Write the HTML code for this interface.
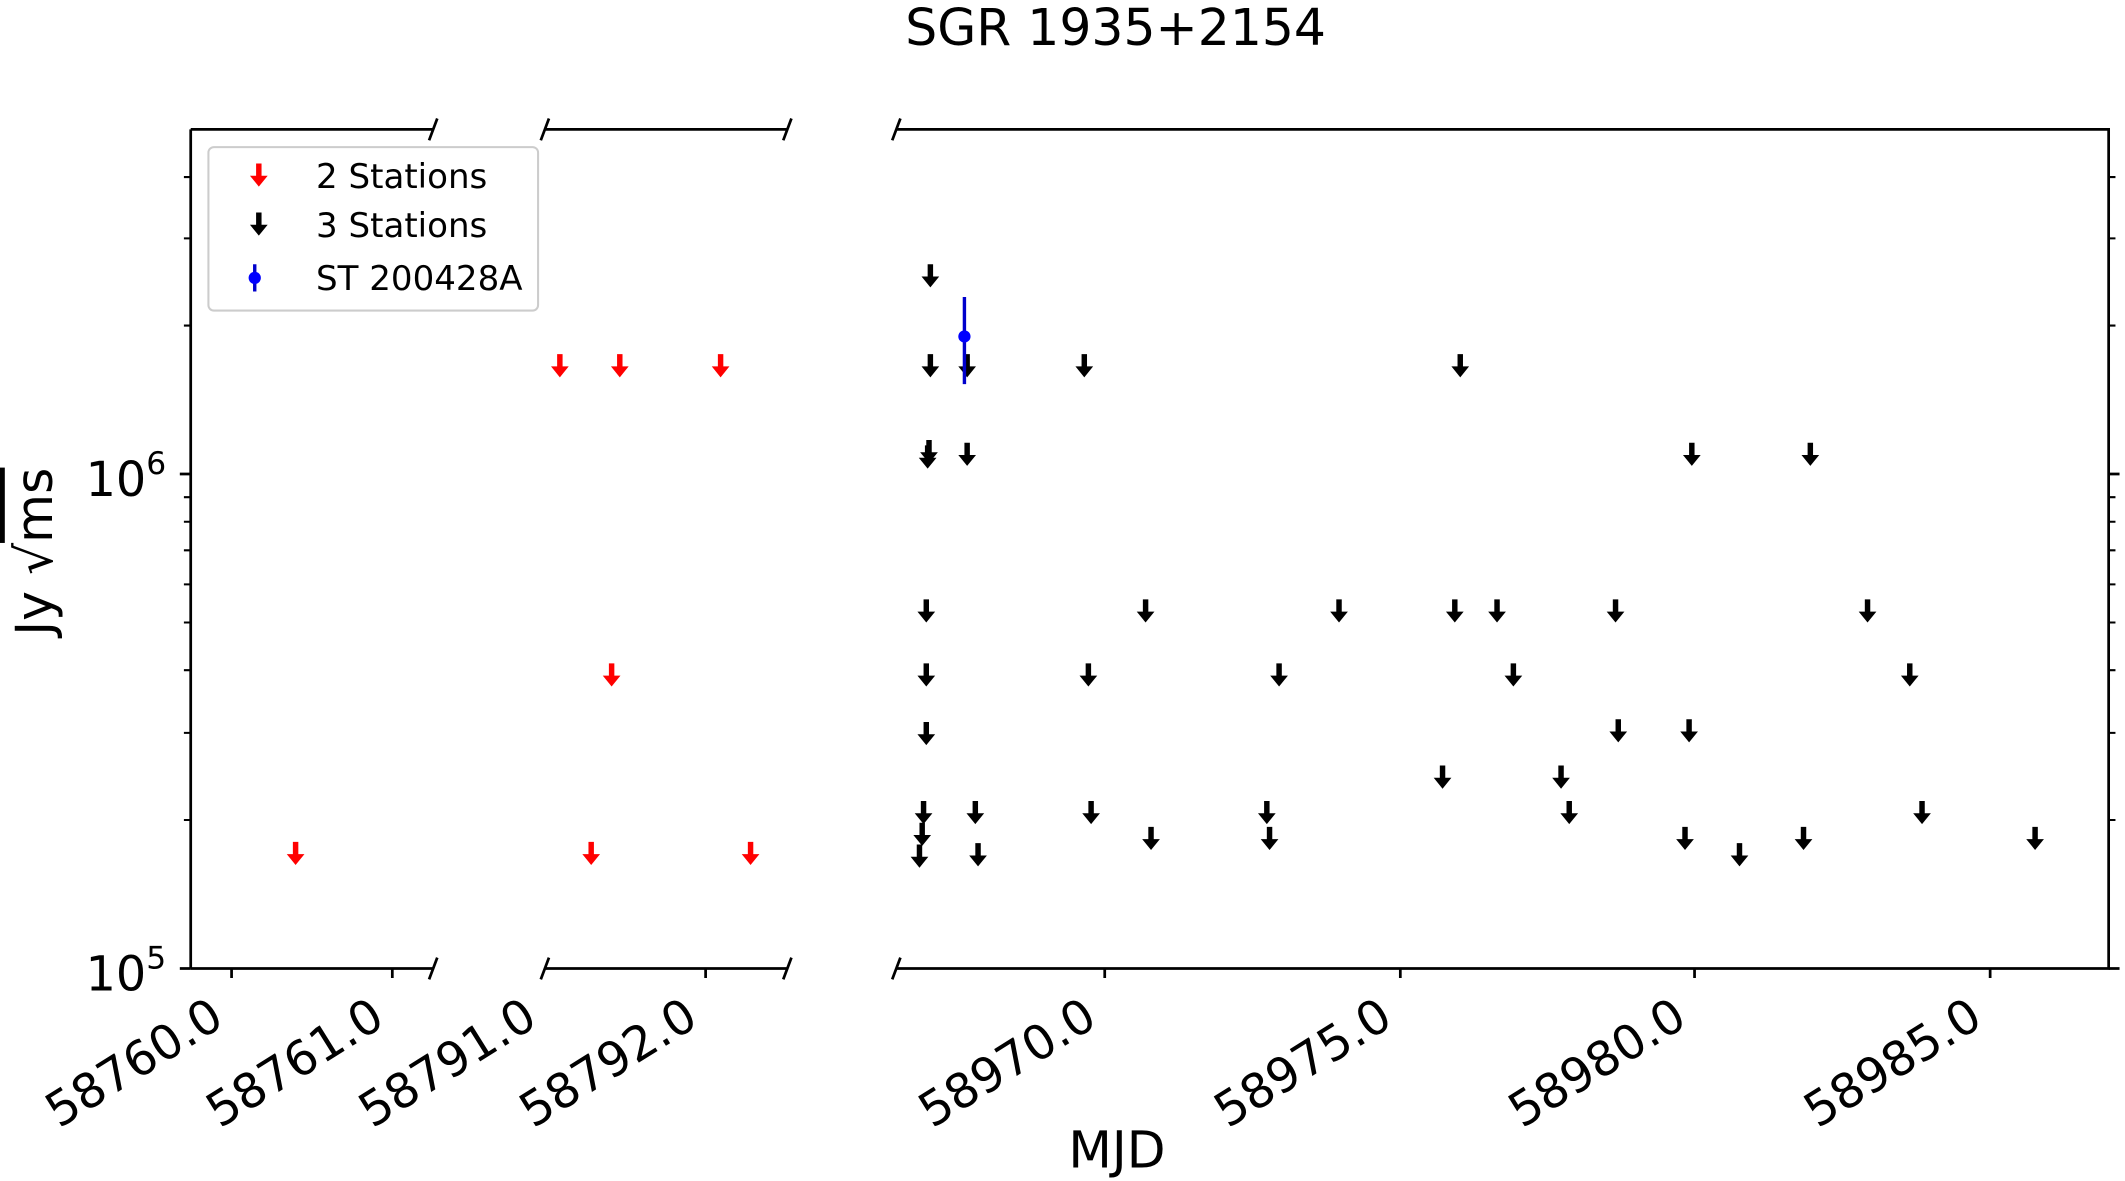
<!DOCTYPE html>
<html><head><meta charset="utf-8"><style>html,body{margin:0;padding:0;background:#fff}svg{display:block}</style></head>
<body>
<svg width="2125" height="1181" viewBox="0 0 1560 867" xmlns="http://www.w3.org/2000/svg" font-family="'DejaVu Sans','Liberation Sans',sans-serif">
<defs>
<g id="ab"><path d="M-2,-10 L2,-10 L2,-1 L6.5,-1 L0,7 L-6.5,-1 L-2,-1 Z" fill="#000"/></g>
<g id="ar"><path d="M-2,-10 L2,-10 L2,-1 L6.5,-1 L0,7 L-6.5,-1 L-2,-1 Z" fill="#f00"/></g>
</defs>
<text x="819" y="33" font-size="37" text-anchor="middle">SGR 1935+2154</text>
<g stroke="#000" stroke-width="2" fill="none">
<path d="M140,95 L140,711 M140,95 L318,95 M140,711 L318,711"/>
<path d="M400,95 L578,95 M400,711 L578,711"/>
<path d="M658,95 L1548,95 L1548,711 L658,711"/>
<path d="M315,103 L321,87 M315,719 L321,703 M397,103 L403,87 M397,719 L403,703 M575,103 L581,87 M575,719 L581,703 M655,103 L661,87 M655,719 L661,703"/>
<path d="M170,711 L170,718 M288,711 L288,718 M518,711 L518,718 M811,711 L811,718 M1028,711 L1028,718 M1244,711 L1244,718 M1461,711 L1461,718"/>
<path d="M140,348 L132,348 M140,711 L132,711 M1548,348 L1556,348 M1548,711 L1556,711"/>
</g>
<g stroke="#000" stroke-width="1.5">
<path d="M140,602 L135,602 M140,538 L135,538 M140,492 L135,492 M140,457 L135,457 M140,429 L135,429 M140,404 L135,404 M140,383 L135,383 M140,365 L135,365 M140,239 L135,239 M140,175 L135,175 M140,130 L135,130"/>
<path d="M1548,602 L1553,602 M1548,538 L1553,538 M1548,492 L1553,492 M1548,457 L1553,457 M1548,429 L1553,429 M1548,404 L1553,404 M1548,383 L1553,383 M1548,365 L1553,365 M1548,239 L1553,239 M1548,175 L1553,175 M1548,130 L1553,130"/>
</g>
<text x="122" y="364" font-size="35" text-anchor="end">10<tspan font-size="23" dy="-16">6</tspan></text>
<text x="122" y="727" font-size="35" text-anchor="end">10<tspan font-size="23" dy="-16">5</tspan></text>
<text transform="translate(38,405) rotate(-90)" font-size="37" text-anchor="middle">Jy √<tspan text-decoration="overline">ms</tspan></text>
<g font-size="35" text-anchor="end">
<text transform="translate(166,752) rotate(-32)">58760.0</text>
<text transform="translate(284,752) rotate(-32)">58761.0</text>
<text transform="translate(396,752) rotate(-32)">58791.0</text>
<text transform="translate(514,752) rotate(-32)">58792.0</text>
<text transform="translate(807,752) rotate(-32)">58970.0</text>
<text transform="translate(1024,752) rotate(-32)">58975.0</text>
<text transform="translate(1240,752) rotate(-32)">58980.0</text>
<text transform="translate(1457,752) rotate(-32)">58985.0</text>
</g>
<text x="820" y="857" font-size="37" text-anchor="middle">MJD</text>
<use href="#ar" x="217" y="628"/><use href="#ar" x="411" y="270"/><use href="#ar" x="455" y="270"/><use href="#ar" x="529" y="270"/><use href="#ar" x="449" y="497"/><use href="#ar" x="434" y="628"/><use href="#ar" x="551" y="628"/>
<use href="#ab" x="683" y="204"/><use href="#ab" x="683" y="270"/><use href="#ab" x="710" y="270"/><use href="#ab" x="796" y="270"/><use href="#ab" x="1072" y="270"/>
<use href="#ab" x="682" y="333"/><use href="#ab" x="681" y="337"/><use href="#ab" x="710" y="335"/><use href="#ab" x="1242" y="335"/><use href="#ab" x="1329" y="335"/>
<use href="#ab" x="680" y="450"/><use href="#ab" x="841" y="450"/><use href="#ab" x="983" y="450"/><use href="#ab" x="1068" y="450"/><use href="#ab" x="1099" y="450"/><use href="#ab" x="1186" y="450"/><use href="#ab" x="1371" y="450"/>
<use href="#ab" x="680" y="497"/><use href="#ab" x="799" y="497"/><use href="#ab" x="939" y="497"/><use href="#ab" x="1111" y="497"/><use href="#ab" x="1402" y="497"/>
<use href="#ab" x="680" y="540"/><use href="#ab" x="1188" y="538"/><use href="#ab" x="1240" y="538"/>
<use href="#ab" x="1059" y="572"/><use href="#ab" x="1146" y="572"/>
<use href="#ab" x="678" y="598"/><use href="#ab" x="716" y="598"/><use href="#ab" x="801" y="598"/><use href="#ab" x="930" y="598"/><use href="#ab" x="1152" y="598"/><use href="#ab" x="1411" y="598"/>
<use href="#ab" x="677" y="614"/><use href="#ab" x="845" y="617"/><use href="#ab" x="932" y="617"/><use href="#ab" x="1237" y="617"/><use href="#ab" x="1324" y="617"/><use href="#ab" x="1494" y="617"/>
<use href="#ab" x="675" y="630"/><use href="#ab" x="718" y="629"/><use href="#ab" x="1277" y="629"/>
<line x1="708" y1="218" x2="708" y2="282" stroke="#00c" stroke-width="2.5"/>
<circle cx="708" cy="247" r="4.5" fill="#00f"/>
<rect x="153" y="108" width="242" height="120" rx="4" fill="#fff" stroke="#ccc" stroke-width="1.5"/>
<use href="#ar" x="190" y="130"/>
<use href="#ab" x="190" y="166"/>
<line x1="187" y1="194" x2="187" y2="214" stroke="#00c" stroke-width="2.5"/>
<circle cx="187" cy="204" r="4.5" fill="#00f"/>
<g font-size="25">
<text x="232" y="138">2 Stations</text>
<text x="232" y="174">3 Stations</text>
<text x="232" y="213">ST 200428A</text>
</g>
</svg>
</body></html>
